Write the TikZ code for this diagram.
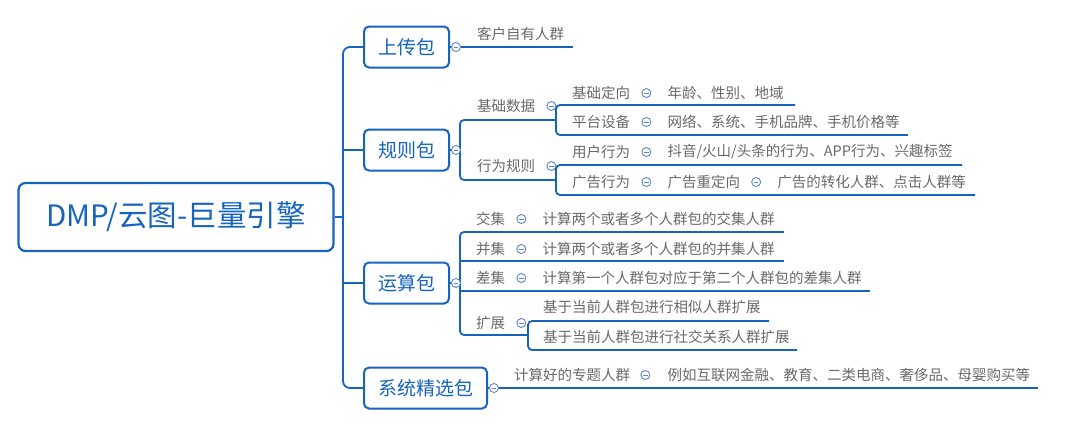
\documentclass[tikz,border=0pt]{standalone}
\usepackage{fontspec}
\setmainfont{Noto Sans CJK SC}
\usetikzlibrary{positioning}
\definecolor{mapblue}{RGB}{22,100,190}
\definecolor{foldblue}{RGB}{95,135,200}
\definecolor{leafgray}{RGB}{105,105,105}

\begin{document}
\begin{tikzpicture}[
  x=1pt, y=-1pt,
  link/.style={draw=mapblue, line width=1.8pt, rounded corners=#1},
  link/.default=4pt,
  topic/.style={rectangle, rounded corners=5pt, draw=mapblue, line width=2pt, fill=white,
    minimum height=41pt, inner xsep=14pt, anchor=west, text=mapblue, font=\fontsize{19}{22}\selectfont},
  leaf/.style={anchor=west, inner sep=0pt, text=leafgray, font=\fontsize{14.5}{17}\selectfont},
  fold/.style={circle, draw=foldblue, fill=white, line width=0.9pt, minimum size=9pt, inner sep=0pt,
    path picture={\draw[foldblue, line width=0.9pt] ([xshift=-2.2pt]path picture bounding box.center) -- ([xshift=2.2pt]path picture bounding box.center);}}
]
\useasboundingbox (0,0) rectangle (1080,431);

\node[rectangle, rounded corners=7pt, draw=mapblue, line width=2.2pt, minimum width=315pt, minimum height=68pt,
  text=mapblue, font=\fontsize{29.5}{33}\selectfont] (root) at (176,217) {DMP/云图-巨量引擎};

\node[topic] (upload) at (363,47) {上传包};
\node[topic] (rule) at (363,150) {规则包};
\node[topic] (calc) at (363,283) {运算包};
\node[topic] (pick) at (363,388) {系统精选包};

% trunk
\coordinate (trunk) at (343,217);
\draw[link=7pt] (upload.west) -| (trunk) |- (pick.west);
\draw[link] (root.east) -- (trunk);
\draw[link] (rule.west) -- (rule.west -| trunk);
\draw[link] (calc.west) -- (calc.west -| trunk);

% upload
\node[leaf] (own) at (477,34) {客户自有人群};
\coordinate (ownend) at (573,47);
\draw[link] (upload.east) -- (ownend);
\node[fold, right=1pt of upload] (fupload) {};

% rule
\node[leaf] (data) at (477,106) {基础数据};
\node[leaf] (act) at (477,166) {行为规则};
\coordinate (rb) at (460,150);
\coordinate (db) at (556,120);
\coordinate (ab) at (556,180);
\draw[link] (rule.east) -- (rb);
\draw[link] (db) -| (rb) |- (ab);
\node[fold, right=1pt of rule] (frule) {};
\node[fold, right=11pt of data] (fdata) {};
\node[fold, right=11pt of act] (fact) {};

\node[leaf] (base) at (572,93) {基础定向};
\node[fold, right=11pt of base] (fbase) {};
\node[leaf, right=16pt of fbase] (basev) {年龄、性别、地域};
\node[leaf] (dev) at (572,122) {平台设备};
\node[fold, right=11pt of dev] (fdev) {};
\node[leaf, right=16pt of fdev] (devv) {网络、系统、手机品牌、手机价格等};
\coordinate (basend) at (795,105);
\coordinate (devend) at (908,135);
\draw[link] (basend) -| (db) |- (devend);

\node[leaf] (user) at (572,152) {用户行为};
\node[fold, right=11pt of user] (fuser) {};
\node[leaf, right=16pt of fuser] (userv) {抖音/火山/头条的行为、APP行为、兴趣标签};
\node[leaf] (ad) at (572,182) {广告行为};
\node[fold, right=11pt of ad] (fad) {};
\node[leaf, right=16pt of fad] (adv) {广告重定向};
\node[fold, right=11pt of adv] (fadv) {};
\node[leaf, right=16pt of fadv] (advv) {广告的转化人群、点击人群等};
\coordinate (userend) at (962,165);
\coordinate (adend) at (975,195);
\draw[link] (userend) -| (ab) |- (adend);

% calc
\coordinate (cb) at (460,283);
\coordinate (eb) at (528,335);
\coordinate (interend) at (784,232);
\coordinate (unionend) at (784,261);
\coordinate (diffend) at (870,291);
\coordinate (simend) at (769,321);
\coordinate (socend) at (797,350);
\draw[link] (calc.east) -- (cb);
\draw[link] (interend) -| (cb) |- (eb);
\draw[link] (unionend) -- (unionend -| cb);
\draw[link] (diffend) -- (diffend -| cb);
\draw[link] (simend) -| (eb) |- (socend);
\node[fold, right=1pt of calc] (fcalc) {};

\node[leaf] (inter) at (476,219) {交集};
\node[fold, right=11pt of inter] (finter) {};
\node[leaf, right=16pt of finter] (interv) {计算两个或者多个人群包的交集人群};
\node[leaf] (union) at (476,249) {并集};
\node[fold, right=11pt of union] (funion) {};
\node[leaf, right=16pt of funion] (unionv) {计算两个或者多个人群包的并集人群};
\node[leaf] (diff) at (476,278) {差集};
\node[fold, right=11pt of diff] (fdiff) {};
\node[leaf, right=16pt of fdiff] (diffv) {计算第一个人群包对应于第二个人群包的差集人群};
\node[leaf] (ext) at (476,323) {扩展};
\node[fold, right=11pt of ext] (fext) {};
\node[leaf] (sim) at (543,307) {基于当前人群包进行相似人群扩展};
\node[leaf] (soc) at (543,337) {基于当前人群包进行社交关系人群扩展};

% pick
\coordinate (pickend) at (1038,388);
\draw[link] (pick.east) -- (pickend);
\node[fold, right=1pt of pick] (fpick) {};
\node[leaf] (theme) at (514,375) {计算好的专题人群};
\node[fold, right=10pt of theme] (ftheme) {};
\node[leaf, right=17pt of ftheme] (themev) {例如互联网金融、教育、二类电商、奢侈品、母婴购买等};
\end{tikzpicture}
\end{document}
